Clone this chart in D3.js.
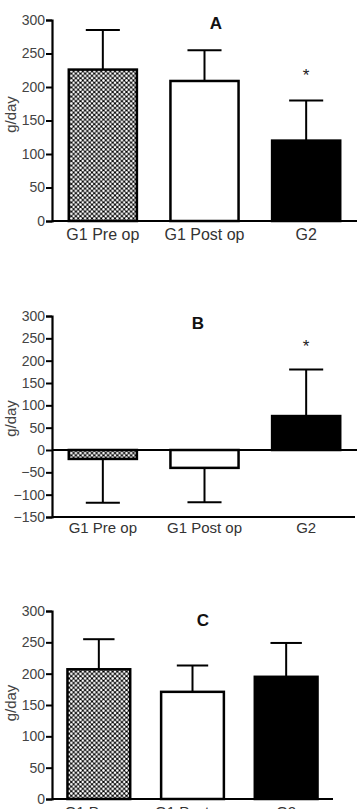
<!DOCTYPE html>
<html>
<head>
<meta charset="utf-8">
<script src="https://cdn.jsdelivr.net/npm/d3@7/dist/d3.min.js"></script>
<style>
  html, body { margin: 0; padding: 0; background: #fff; }
  svg { display: block; font-family: "Liberation Sans", Arial, sans-serif; }
</style>
</head>
<body>
<svg id="chart" width="363" height="809"></svg>
<script>
const categories = ["G1 Pre op", "G1 Post op", "G2"];
const yTicksPos = [0, 50, 100, 150, 200, 250, 300];
const yTicksB = [-150, -100, -50, 0, 50, 100, 150, 200, 250, 300];

const valuesA = [226, 209, 120];
const errorsA = [59, 46, 60];
const starsA = [false, false, true];

const valuesB = [-20, -40, 76];
const errorsB = [98, 77, 104];
const starsB = [false, false, true];

const valuesC = [207, 171, 195];
const errorsC = [48, 42, 54];
const starsC = [false, false, false];

const fills = ["url(#dots)", "#fff", "#000"];

const svg = d3.select("#chart");
const defs = svg.append("defs");
const T = 4.6;
const pat = defs.append("pattern").attr("id", "dots")
  .attr("patternUnits", "userSpaceOnUse").attr("width", T).attr("height", T);
pat.append("rect").attr("width", T).attr("height", T).attr("fill", "#000");
[[0,0],[T,0],[0,T],[T,T],[T/2,T/2]].forEach(([cx,cy]) =>
  pat.append("circle").attr("cx", cx).attr("cy", cy).attr("r", 1.3).attr("fill", "#fff"));

function panel(cfg) {
  const g = svg.append("g");
  const x = d3.scaleBand().domain(categories).range([cfg.x0, cfg.x1])
    .paddingInner(0.33).paddingOuter(0.165);
  const y = d3.scaleLinear().domain(cfg.domain).range([cfg.yBottom, cfg.yTop]);

  const data = categories.map((c, i) => ({c, v: cfg.values[i], e: cfg.errors[i], f: fills[i], s: cfg.stars[i]}));
  const cap = x.bandwidth() / 2;
  data.forEach(d => {
    const cx = x(d.c) + x.bandwidth() / 2;
    const end = d.v >= 0 ? d.v + d.e : d.v - d.e;
    g.append("line").attr("x1", cx).attr("x2", cx).attr("y1", y(d.v)).attr("y2", y(end))
      .attr("stroke", "#000").attr("stroke-width", 2);
    g.append("line").attr("x1", cx - cap / 2).attr("x2", cx + cap / 2).attr("y1", y(end)).attr("y2", y(end))
      .attr("stroke", "#000").attr("stroke-width", 2);
    if (d.s) {
      g.append("text").attr("x", cx).attr("y", y(end) + cfg.starDy)
        .attr("text-anchor", "middle").attr("font-size", 17).attr("fill", "#222").text("*");
    }
  });
  g.selectAll("rect.bar").data(data).enter().append("rect").attr("class", "bar")
    .attr("x", d => x(d.c))
    .attr("width", x.bandwidth())
    .attr("y", d => y(Math.max(0, d.v)))
    .attr("height", d => Math.abs(y(d.v) - y(0)))
    .attr("fill", d => d.f)
    .attr("stroke", "#000").attr("stroke-width", 2.5);

  const yAxis = d3.axisLeft(y).tickValues(cfg.ticks).tickSize(6).tickPadding(1).tickFormat(d3.format("d"));
  const ya = g.append("g").attr("transform", `translate(${cfg.x0},0)`).call(yAxis);
  ya.select(".domain").attr("stroke", "#000").attr("stroke-width", 2.2);
  ya.selectAll(".tick line").attr("stroke", "#000").attr("stroke-width", 2);
  ya.selectAll(".tick text").attr("font-size", 14).attr("fill", "#444")
    .attr("font-family", "'Liberation Sans', Arial, sans-serif");

  g.append("line").attr("x1", cfg.x0).attr("x2", cfg.x1).attr("y1", y(0)).attr("y2", y(0))
    .attr("stroke", "#000").attr("stroke-width", 2.2);
  if (cfg.domain[0] < 0) {
    g.append("line").attr("x1", cfg.x0).attr("x2", cfg.x1 - 2).attr("y1", y(cfg.domain[0])).attr("y2", y(cfg.domain[0]))
      .attr("stroke", "#000").attr("stroke-width", 2.2);
  }

  categories.forEach(c => {
    g.append("text").attr("x", x(c) + x.bandwidth() / 2).attr("y", cfg.labelY)
      .attr("text-anchor", "middle").attr("font-size", cfg.labelSize).attr("fill", "#333").text(c);
  });

  const my = (cfg.yTop + cfg.yBottom) / 2 + cfg.ylabDy;
  g.append("text").attr("transform", `translate(16,${my}) rotate(-90)`)
    .attr("text-anchor", "middle").attr("font-size", 15).attr("fill", "#444").text("g/day");

  g.append("text").attr("x", cfg.titleX).attr("y", cfg.titleY).attr("text-anchor", "middle")
    .attr("font-size", 17).attr("font-weight", "bold").attr("fill", "#111").text(cfg.title);
}

panel({title: "A", titleX: 216, titleY: 29, values: valuesA, errors: errorsA, stars: starsA,
  domain: [0, 300], ticks: yTicksPos, yTop: 20, yBottom: 221, x0: 52, x1: 357,
  labelY: 240, labelSize: 16, starDy: -19, ylabDy: -6});
panel({title: "B", titleX: 198, titleY: 329, values: valuesB, errors: errorsB, stars: starsB,
  domain: [-150, 300], ticks: yTicksB, yTop: 316, yBottom: 517, x0: 52, x1: 357,
  labelY: 533, labelSize: 15, starDy: -18, ylabDy: 2});
panel({title: "C", titleX: 203, titleY: 626, values: valuesC, errors: errorsC, stars: starsC,
  domain: [0, 300], ticks: yTicksPos, yTop: 611, yBottom: 799, x0: 52, x1: 333,
  labelY: 817, labelSize: 15, starDy: -19, ylabDy: -2});
</script>
</body>
</html>
